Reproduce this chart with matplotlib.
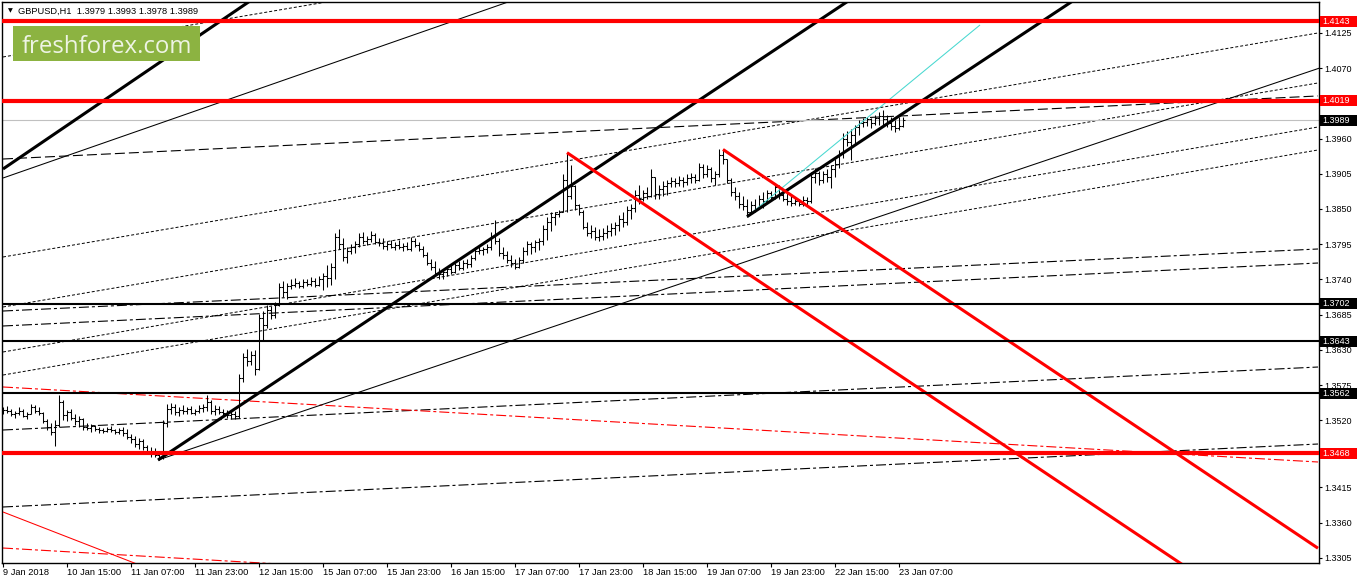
import matplotlib
matplotlib.use("Agg")
import matplotlib.pyplot as plt
import matplotlib.transforms as mtransforms
from matplotlib.collections import LineCollection
from matplotlib.patches import Rectangle

plt.rcParams['font.family'] = ['Liberation Sans', 'DejaVu Sans']
plt.rcParams['lines.scale_dashes'] = False

# ---------------- data ----------------
title_text = "GBPUSD,H1  1.3979 1.3993 1.3978 1.3989"
watermark = "freshforex.com"

time_labels = ["9 Jan 2018", "10 Jan 15:00", "11 Jan 07:00", "11 Jan 23:00", "12 Jan 15:00",
               "15 Jan 07:00", "15 Jan 23:00", "16 Jan 15:00", "17 Jan 07:00", "17 Jan 23:00",
               "18 Jan 15:00", "19 Jan 07:00", "19 Jan 23:00", "22 Jan 15:00", "23 Jan 07:00"]
label_bars = [0, 16, 32, 48, 64, 80, 96, 112, 128, 144, 160, 176, 192, 208, 224]

price_ticks = [1.3305, 1.3360, 1.3415, 1.3465, 1.3520, 1.3575, 1.3630, 1.3685, 1.3740,
               1.3795, 1.3850, 1.3905, 1.3960, 1.4015, 1.4070, 1.4125]
hidden_ticks = [1.3465, 1.4015]   # covered by the level boxes

first_open = 13538  # in 1e-4 units
highs = [13540,13542,13538,13534,13540,13537,13533,13545,13543,13540,
         13533,13522,13515,13521,13560,13552,13536,13538,13530,13526,
         13524,13516,13514,13513,13510,13508,13509,13511,13507,13508,
         13510,13506,13498,13496,13492,13490,13482,13478,13476,13470,
         13521,13546,13547,13545,13540,13543,13541,13542,13538,13544,
         13546,13560,13552,13544,13542,13538,13536,13535,13534,13592,
         13625,13632,13628,13630,13686,13690,13700,13698,13704,13735,
         13738,13734,13740,13742,13738,13741,13740,13744,13742,13745,
         13750,13762,13766,13812,13818,13805,13790,13795,13800,13812,
         13814,13808,13816,13812,13805,13804,13800,13802,13798,13801,
         13797,13799,13806,13805,13798,13792,13783,13772,13768,13758,
         13755,13760,13762,13766,13768,13770,13772,13778,13790,13794,
         13790,13796,13814,13833,13804,13790,13785,13778,13772,13775,
         13790,13800,13798,13802,13804,13825,13838,13845,13846,13849,
         13904,13938,13919,13888,13858,13848,13830,13825,13822,13818,
         13820,13825,13828,13830,13840,13846,13855,13858,13880,13888,
         13880,13884,13912,13898,13888,13893,13896,13900,13898,13902,
         13900,13904,13906,13904,13922,13920,13918,13916,13910,13943,
         13943,13928,13898,13884,13876,13870,13866,13862,13865,13872,
         13876,13880,13878,13890,13888,13882,13876,13872,13868,13866,
         13870,13868,13908,13914,13910,13910,13912,13918,13928,13942,
         13968,13972,13975,13982,13989,13992,13994,13992,13997,14002,
         14005,13997,13993,13989,13993,13993]
lows = [13530,13532,13526,13524,13528,13525,13522,13529,13532,13528,
        13515,13505,13497,13479,13510,13521,13518,13520,13513,13510,
        13505,13505,13502,13503,13500,13500,13501,13502,13499,13498,
        13496,13490,13484,13478,13475,13473,13468,13463,13462,13458,
        13460,13510,13530,13528,13527,13530,13529,13530,13528,13531,
        13533,13535,13530,13528,13530,13527,13524,13522,13522,13524,
        13580,13605,13606,13590,13598,13646,13664,13678,13680,13698,
        13712,13710,13725,13728,13726,13727,13729,13730,13728,13729,
        13724,13728,13732,13740,13788,13768,13766,13780,13782,13790,
        13795,13794,13798,13796,13792,13788,13786,13789,13786,13788,
        13785,13786,13784,13790,13784,13775,13762,13755,13745,13741,
        13740,13746,13748,13750,13754,13755,13758,13760,13770,13780,
        13778,13782,13786,13795,13776,13772,13765,13760,13756,13758,
        13766,13778,13780,13783,13786,13794,13802,13815,13825,13838,
        13845,13846,13866,13849,13840,13818,13808,13805,13802,13800,
        13802,13805,13808,13810,13815,13822,13825,13835,13846,13858,
        13862,13866,13868,13866,13866,13870,13872,13885,13884,13886,
        13885,13888,13890,13890,13894,13898,13900,13892,13888,13900,
        13920,13890,13870,13864,13852,13848,13838,13842,13846,13850,
        13852,13864,13862,13866,13865,13862,13856,13855,13856,13855,
        13855,13856,13860,13890,13888,13890,13892,13883,13900,13914,
        13930,13948,13927,13950,13966,13978,13980,13977,13982,13982,
        13982,13978,13974,13971,13974,13978]
closes = [13536,13535,13530,13532,13534,13527,13530,13540,13535,13531,
          13518,13510,13502,13512,13548,13528,13533,13524,13518,13522,
          13510,13508,13511,13506,13505,13503,13507,13505,13502,13504,
          13500,13494,13490,13483,13488,13478,13472,13470,13466,13463,
          13515,13538,13541,13533,13536,13534,13538,13532,13535,13539,
          13541,13548,13534,13538,13533,13531,13528,13530,13526,13586,
          13618,13612,13622,13600,13680,13668,13692,13684,13700,13728,
          13720,13730,13732,13735,13730,13736,13733,13738,13731,13740,
          13745,13742,13760,13806,13796,13775,13784,13790,13795,13806,
          13800,13803,13810,13799,13797,13792,13795,13791,13794,13790,
          13792,13788,13800,13794,13788,13778,13766,13760,13750,13748,
          13752,13756,13752,13762,13758,13766,13764,13774,13785,13786,
          13788,13790,13808,13800,13782,13778,13770,13765,13760,13770,
          13785,13795,13790,13798,13800,13818,13830,13838,13842,13845,
          13896,13870,13886,13856,13846,13822,13812,13815,13806,13808,
          13812,13816,13820,13825,13835,13830,13848,13852,13872,13866,
          13875,13870,13900,13874,13882,13886,13890,13894,13890,13896,
          13892,13898,13900,13896,13915,13904,13912,13898,13905,13935,
          13928,13895,13876,13870,13858,13855,13846,13856,13850,13866,
          13862,13875,13868,13884,13872,13866,13862,13860,13862,13858,
          13864,13862,13900,13906,13895,13905,13900,13912,13920,13936,
          13960,13955,13965,13978,13985,13986,13990,13984,13992,13996,
          13990,13985,13980,13976,13979,13989]

red_levels = [1.4143, 1.4019, 1.3468]
black_levels = [1.3702, 1.3643, 1.3562]
last_price = 1.3989

# trend lines: ((bar, price), (bar, price))
thick_black_lines = [((0, 1.39125), (70, 1.4210)),
                     ((38.75, 1.34578), (215, 1.41903)),
                     ((186, 1.3838), (270, 1.41856))]
thin_black_lines = [((0, 1.38984), (129.25, 1.41799)),
                    ((38.75, 1.34578), (330, 1.40720))]
cyan_lines = [((186, 1.3838), (244.25, 1.41375))]
thick_red_lines = [((141, 1.3938), (299.25, 1.32760)),
                   ((180, 1.3943), (328.75, 1.33200))]
thin_red_lines = [((0, 1.33766), (39.25, 1.32813))]
red_dashdot_lines = [((0, 1.35719), (328.75, 1.34547)),
                     ((0, 1.33203), (99.25, 1.32844))]
dotted_lines = [((0, 1.3775), (328.75, 1.4125)),
                ((0, 1.36969), (328.75, 1.40469)),
                ((0, 1.36266), (328.75, 1.39781)),
                ((0, 1.35906), (328.75, 1.39422)),
                ((0, 1.40875), (99.25, 1.4193))]
long_dash_lines = [((0, 1.39281), (328.75, 1.40266))]
dashdot_lines = [((0, 1.36906), (328.75, 1.37875)),
                 ((0, 1.36672), (328.75, 1.37656)),
                 ((0, 1.35047), (328.75, 1.36031)),
                 ((0, 1.33844), (328.75, 1.34828))]

# ---------------- figure ----------------
W, H, DPI = 1358, 584, 100
fig = plt.figure(figsize=(W / DPI, H / DPI), dpi=DPI)
fig.patch.set_facecolor('white')
ax = fig.add_axes([2 / W, 21 / H, 1317 / W, 561 / H])
ax.set_xlim(-0.25, 329.0)
ax.set_ylim(1.32969, 1.41734)

# OHLC bars
segs = []
prev = first_open
for i in range(len(closes)):
    o, h, l, c = prev / 1e4, highs[i] / 1e4, lows[i] / 1e4, closes[i] / 1e4
    hi, lo = max(h, o, c), min(l, o, c)
    segs.append([(i, lo), (i, hi)])
    segs.append([(i - 0.45, o), (i, o)])
    segs.append([(i, c), (i + 0.45, c)])
    prev = closes[i]
ax.add_collection(LineCollection(segs, colors='black', linewidths=0.75, zorder=3))

def draw(lines, **kw):
    for (x0, y0), (x1, y1) in lines:
        ax.plot([x0, x1], [y0, y1], solid_capstyle='butt', **kw)

PX = 0.72  # points per pixel
draw(dotted_lines, color='black', lw=0.7, ls=(0, (3 * PX, 2 * PX)), zorder=2)
draw(long_dash_lines, color='black', lw=0.8, ls=(0, (10 * PX, 4 * PX)), zorder=2)
draw(dashdot_lines, color='black', lw=0.8, ls=(0, (10 * PX, 3 * PX, 3 * PX, 3 * PX)), zorder=2)
draw(red_dashdot_lines, color='#ff0000', lw=0.8, ls=(0, (10 * PX, 3 * PX, 3 * PX, 3 * PX)), zorder=2)
draw(thin_black_lines, color='black', lw=0.75, zorder=4)
draw(thin_red_lines, color='#ff0000', lw=0.75, zorder=4)
draw(cyan_lines, color='#48d8d0', lw=0.75, zorder=4)
draw(thick_black_lines, color='black', lw=2.2, zorder=5)
draw(thick_red_lines, color='#ff0000', lw=2.2, zorder=5)

ax.axhline(last_price, color='#c0c0c0', lw=0.8, zorder=2)
for p in black_levels:
    ax.axhline(p, color='black', lw=1.5, zorder=5)
for p in red_levels:
    ax.axhline(p, color='#ff0000', lw=3.0, zorder=5)

# axes styling
for s in ax.spines.values():
    s.set_color('black')
    s.set_linewidth(1.0)
ax.yaxis.tick_right()
ax.set_yticks(price_ticks)
ax.set_yticklabels(["" if p in hidden_ticks else f"{p:.4f}" for p in price_ticks])
ax.tick_params(axis='y', direction='out', length=3 * PX, width=0.8, pad=2 * PX,
               labelsize=6.5, colors='black')
ax.set_xticks(label_bars)
ax.set_xticklabels(time_labels)
ax.tick_params(axis='x', direction='out', length=4 * PX, width=0.8, pad=1 * PX,
               labelsize=6.7, colors='black')
for lbl in ax.get_xticklabels():
    lbl.set_ha('left')

# price label boxes on the right axis
trans = mtransforms.blended_transform_factory(fig.transFigure, ax.transData)
half = 5.5 / 6400
def price_box(p, fc):
    ax.add_patch(Rectangle((1319.5 / W, p - half), 37 / W, 2 * half, transform=trans,
                           facecolor=fc, edgecolor='none', clip_on=False, zorder=10))
    ax.text(1322.5 / W, p, f"{p:.4f}", transform=trans, color='white', fontsize=6.5,
            va='center', ha='left', clip_on=False, zorder=11)
for p in red_levels:
    price_box(p, '#ff0000')
for p in black_levels + [last_price]:
    price_box(p, 'black')

# title and watermark
fig.text(8 / W, 1 - 11 / H, '\u25bc', fontsize=4.5, va='center', ha='left',
         family='DejaVu Sans', color='black')
fig.text(18 / W, 1 - 11 / H, title_text, fontsize=6.7, va='center', ha='left', color='black')
fig.add_artist(Rectangle((13 / W, 1 - 61 / H), 187 / W, 35 / H, transform=fig.transFigure,
                         facecolor='#8cb341', edgecolor='none', zorder=20))
fig.text(106.5 / W, 1 - 53 / H, watermark, fontsize=17.3, family=['Open Sans', 'DejaVu Sans'],
         color='#eef4e4', ha='center', va='baseline', zorder=21)

fig.savefig('out.png', dpi=DPI)
